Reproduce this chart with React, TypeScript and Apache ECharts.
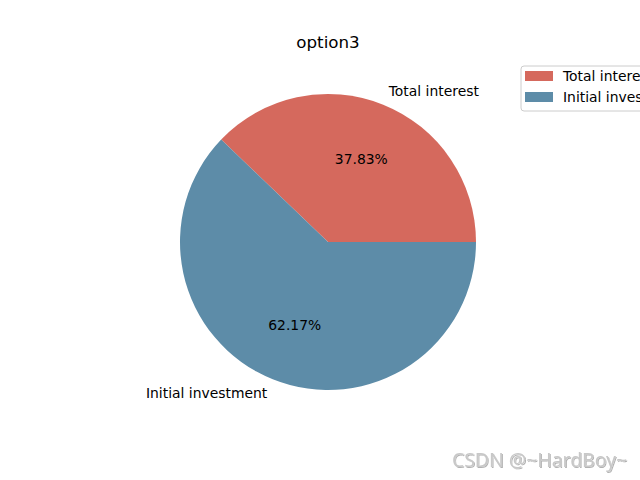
import React, { useEffect, useRef } from "react";
import * as echarts from "echarts";

const titleText = "option3";
const categories = ["Total interest", "Initial investment"];
const values = [60850, 100000];
const colors = ["#d5695d", "#5d8ca8"];
const watermark = "CSDN @~HardBoy~";

export default function App() {
  const ref = useRef<HTMLDivElement>(null);
  useEffect(() => {
    if (!ref.current) return;
    const chart = echarts.init(ref.current, undefined, { renderer: "svg" });
    const font = "DejaVu Sans";
    const R = 148;
    const data = categories.map((name, i) => ({ name, value: values[i], itemStyle: { color: colors[i] } }));
    chart.setOption({
      animation: false,
      backgroundColor: "#ffffff",
      textStyle: { fontFamily: font },
      legend: {
        orient: "vertical",
        left: 521,
        top: 66,
        data: categories,
        icon: "rect",
        itemWidth: 28,
        itemHeight: 10,
        itemGap: 7,
        selectedMode: false,
        padding: [3, 10, 7, 4],
        backgroundColor: "#ffffff",
        borderColor: "#cccccc",
        borderWidth: 1,
        borderRadius: 3,
        textStyle: { fontFamily: font, fontSize: 13.9, color: "#000", lineHeight: 14, padding: [0, 0, 0, 5] },
      },
      graphic: [
        {
          type: "text",
          x: 328,
          y: 42,
          style: { text: titleText, font: `16.7px "${font}"`, fill: "#000", align: "center", verticalAlign: "middle" },
        },
        {
          type: "text",
          x: 627,
          y: 459,
          style: {
            text: watermark,
            font: `19.4px "Noto Sans"`,
            fill: "#c8c8c8",
            align: "right",
            verticalAlign: "middle",
            textShadowColor: "rgba(0,0,0,0.3)",
            textShadowBlur: 1,
            textShadowOffsetX: 1,
            textShadowOffsetY: 1,
          },
        },
      ],
      series: [
        {
          type: "pie",
          center: [328, 242],
          radius: [0, R],
          startAngle: 0,
          clockwise: false,
          data,
          avoidLabelOverlap: false,
          silent: true,
          label: {
            show: true,
            position: "outside",
            formatter: "{b}",
            fontFamily: font,
            fontSize: 13.9,
            color: "#000",
            distanceToLabelLine: 0,
          },
          labelLine: { show: false, length: R * 0.1, length2: 0 },
        },
        {
          type: "pie",
          center: [328, 242],
          radius: [0, R * 1.165],
          startAngle: 0,
          clockwise: false,
          data: categories.map((name, i) => ({ name, value: values[i] })),
          silent: true,
          itemStyle: { color: "rgba(0,0,0,0)" },
          label: {
            show: true,
            position: "inside",
            formatter: "{d}%",
            fontFamily: font,
            fontSize: 13.9,
            color: "#000",
          },
          labelLine: { show: false },
        },
      ],
    });
    return () => chart.dispose();
  }, []);
  return (
    <div
      ref={ref}
      style={{ position: "fixed", left: 0, top: 0, width: 640, height: 480, background: "#fff" }}
    />
  );
}
